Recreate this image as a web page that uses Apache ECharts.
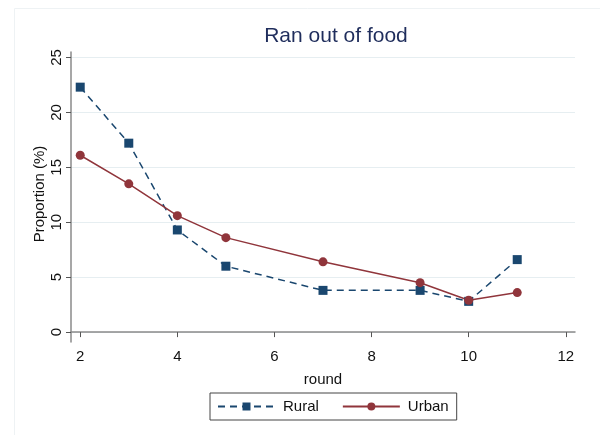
<!DOCTYPE html>
<html>
<head>
<meta charset="utf-8">
<script src="https://cdn.jsdelivr.net/npm/echarts@6/dist/echarts.min.js"></script>
<style>
  html, body { margin: 0; padding: 0; background: #fff; }
  #chart { width: 600px; height: 435px; }
</style>
</head>
<body>
<div id="chart"></div>
<script>
const rounds = [2, 3, 4, 5, 7, 9, 10, 11]
const rural = [22.3, 17.2, 9.3, 6.0, 3.8, 3.8, 2.8, 6.6]
const urban = [16.1, 13.5, 10.6, 8.6, 6.4, 4.5, 2.9, 3.6]

const RURAL_COLOR = '#1a476f'
const URBAN_COLOR = '#90353b'
const FONT = 'Liberation Sans, Arial, sans-serif'

const chart = echarts.init(document.getElementById('chart'), null, { renderer: 'canvas' })

const pairs = (ys) => rounds.map((x, i) => [x, ys[i]])

chart.setOption({
  animation: false,
  textStyle: { fontFamily: FONT },
  graphic: [
    {
      type: 'rect',
      left: 12, top: 6,
      shape: { width: 600, height: 440 },
      style: { fill: 'none', stroke: '#eef2f4', lineWidth: 1 },
      silent: true,
    },
    {
      // y axis title, placed by hand so it sits close to the tick labels
      type: 'text',
      x: 40, y: 194,
      rotation: Math.PI / 2,
      style: {
        text: 'Proportion (%)',
        fill: '#111',
        font: '15px Liberation Sans, Arial, sans-serif',
        align: 'center',
        verticalAlign: 'middle',
      },
      silent: true,
    },
  ],
  title: {
    text: 'Ran out of food',
    left: 331, top: 21,
    textAlign: 'center',
    textStyle: { color: '#1f2d5c', fontSize: 21, fontWeight: 'normal', fontFamily: FONT },
  },
  legend: {
    data: ['Rural', 'Urban'],
    left: 210, top: 393,
    itemWidth: 57, itemHeight: 10,
    itemGap: 23,
    padding: [6, 8, 6, 7],
    borderColor: '#444', borderWidth: 1,
    textStyle: { color: '#111', fontSize: 15, fontFamily: FONT, padding: [0, 0, 0, 3] },
  },
  grid: { left: 71, right: 25, top: 52, bottom: 93 },
  xAxis: {
    type: 'value',
    min: 1.81, max: 12.19,
    interval: 2,
    name: 'round',
    nameLocation: 'middle',
    nameGap: 30,
    nameTextStyle: { color: '#111', fontSize: 15, fontFamily: FONT },
    axisLine: { show: true, lineStyle: { color: '#8a8a8a', width: 1.5 } },
    axisTick: { show: true, length: 5, lineStyle: { color: '#555' }, customValues: [2, 4, 6, 8, 10, 12] },
    axisLabel: { color: '#111', fontSize: 15, margin: 7, customValues: [2, 4, 6, 8, 10, 12] },
    splitLine: { show: false },
  },
  yAxis: {
    type: 'value',
    min: -0.9, max: 25.5,
    axisLine: { show: true, lineStyle: { color: '#8a8a8a', width: 1.5 } },
    axisTick: { show: true, length: 5, lineStyle: { color: '#555' }, customValues: [0, 5, 10, 15, 20, 25] },
    axisLabel: { color: '#111', fontSize: 15, rotate: 90, margin: 7, customValues: [0, 5, 10, 15, 20, 25] },
    splitLine: { show: true, lineStyle: { color: '#e6eef1', width: 1 } },
  },
  series: [
    {
      name: 'Rural',
      type: 'line',
      data: pairs(rural),
      symbol: 'rect',
      symbolSize: 9,
      lineStyle: { color: RURAL_COLOR, width: 1.5, type: [7, 5] },
      itemStyle: { color: RURAL_COLOR },
    },
    {
      name: 'Urban',
      type: 'line',
      data: pairs(urban),
      symbol: 'circle',
      symbolSize: 9,
      lineStyle: { color: URBAN_COLOR, width: 1.5 },
      itemStyle: { color: URBAN_COLOR },
    },
  ],
})
</script>
</body>
</html>
